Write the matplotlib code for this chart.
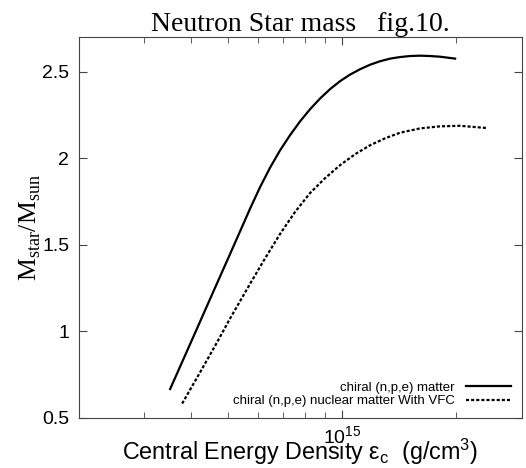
import matplotlib
matplotlib.use("Agg")
import matplotlib.pyplot as plt
from matplotlib.ticker import LogLocator, LogFormatterSciNotation, NullFormatter

# Central energy density (g/cm^3) and mass ratio M_star/M_sun
eps_chiral = [3.517e14, 3.853e14, 4.220e14, 4.623e14, 5.065e14, 5.720e14, 6.077e14,
              6.457e14, 6.862e14, 7.293e14, 7.748e14, 8.232e14, 8.750e14, 9.297e14,
              9.880e14, 1.050e15, 1.116e15, 1.186e15, 1.260e15, 1.339e15, 1.422e15,
              1.511e15, 1.606e15, 1.707e15, 1.814e15, 1.987e15]
m_chiral = [0.667, 0.862, 1.057, 1.253, 1.448, 1.710, 1.834,
            1.946, 2.046, 2.134, 2.213, 2.283, 2.345, 2.399,
            2.445, 2.483, 2.514, 2.540, 2.560, 2.575, 2.584,
            2.590, 2.592, 2.590, 2.586, 2.575]

eps_vfc = [3.783e14, 4.220e14, 4.623e14, 5.065e14, 5.720e14, 6.264e14, 6.862e14,
           7.516e14, 8.232e14, 9.020e14, 9.880e14, 1.082e15, 1.186e15, 1.299e15,
           1.422e15, 1.606e15, 1.814e15, 2.048e15, 2.413e15]
m_vfc = [0.583, 0.764, 0.917, 1.075, 1.276, 1.422, 1.563,
         1.690, 1.799, 1.885, 1.960, 2.023, 2.075, 2.115,
         2.147, 2.172, 2.184, 2.187, 2.174]

label_chiral = "chiral (n,p,e) matter"
label_vfc = "chiral (n,p,e) nuclear matter With VFC"
y_ticks = [0.5, 1.0, 1.5, 2.0, 2.5]
y_ticklabels = ["0.5", "1", "1.5", "2", "2.5"]

fig = plt.figure(figsize=(5.26, 4.68), dpi=100)
ax = fig.add_axes([0.150, 0.107, 0.842, 0.814])

ax.plot(eps_chiral, m_chiral, color="black", lw=1.6, label=label_chiral,
        solid_joinstyle="round")
ax.plot(eps_vfc, m_vfc, color="black", lw=1.6, linestyle=(0, (1.4, 0.9)), label=label_vfc)

ax.set_xscale("log")
ax.set_xlim(2.02e14, 2.98e15)
ax.set_ylim(0.5, 2.7)

ax.xaxis.set_major_locator(LogLocator(base=10, numticks=10))
ax.xaxis.set_major_formatter(LogFormatterSciNotation())
ax.xaxis.set_minor_locator(LogLocator(base=10, subs=range(2, 10), numticks=20))
ax.xaxis.set_minor_formatter(NullFormatter())
ax.set_yticks(y_ticks)
ax.set_yticklabels(y_ticklabels)

ax.tick_params(which="both", direction="in", top=True, right=True, colors="#444444",
               labelcolor="black", labelsize=14)
ax.tick_params(which="major", length=6)
ax.tick_params(which="minor", length=4)
ax.tick_params(axis="y", pad=7)
ax.tick_params(axis="x", pad=5)
for lab in ax.get_xticklabels() + ax.get_yticklabels():
    lab.set_family("Liberation Sans")
for sp in ax.spines.values():
    sp.set_color("#444444")

ax.set_title("Neutron Star mass   fig.10.", family="Liberation Serif", fontsize=20, pad=4)
ax.set_xlabel(r"Central Energy Density $\mathregular{\varepsilon_c}$  (g/cm$\mathregular{^3}$)",
              family="Liberation Sans", fontsize=16.8, labelpad=-7)
ax.set_ylabel(r"M$_{\mathregular{star}}$/M$_{\mathregular{sun}}$", family="Liberation Serif",
              fontsize=18.5, labelpad=-1)

leg = ax.legend(loc="lower right", frameon=False, markerfirst=False,
                prop={"family": "Liberation Sans", "size": 9.5},
                handlelength=3.4, borderaxespad=0.4, labelspacing=0.1, handletextpad=0.9)

fig.savefig("out.png", dpi=100)
